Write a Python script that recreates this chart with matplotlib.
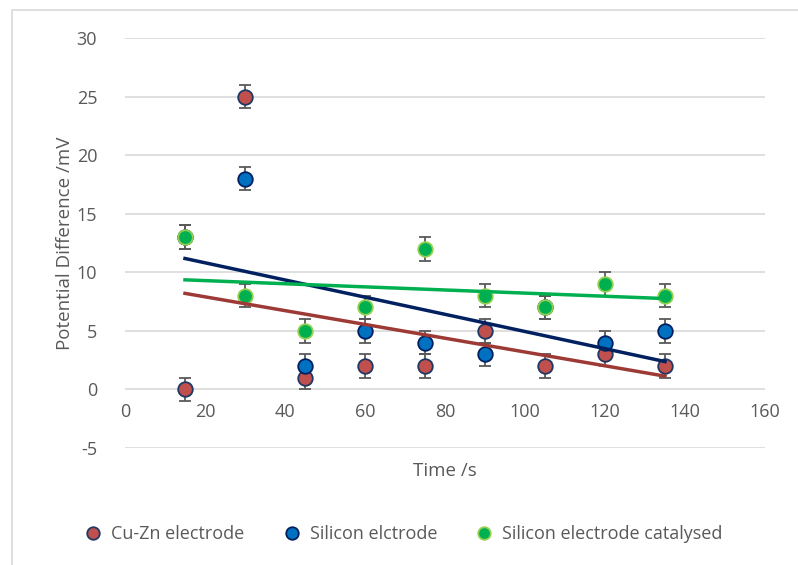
import numpy as np
import matplotlib.pyplot as plt
from matplotlib.patches import Rectangle
from matplotlib.lines import Line2D

time_s = [15, 30, 45, 60, 75, 90, 105, 120, 135]
cuzn = [0, 25, 1, 2, 2, 5, 2, 3, 2]
silicon = [13, 18, 2, 5, 4, 3, 7, 4, 5]
silicon_cat = [13, 8, 5, 7, 12, 8, 7, 9, 8]
err = 1

series = [
    ("Cu-Zn electrode", cuzn, "#C0504D", "#1F3864", "#9E3A36"),
    ("Silicon elctrode", silicon, "#0070C0", "#002060", "#002060"),
    ("Silicon electrode catalysed", silicon_cat, "#00B050", "#92D050", "#00B050"),
]

plt.rcParams['font.family'] = ['Open Sans', 'DejaVu Sans']
plt.rcParams['axes.unicode_minus'] = False
grey = "#595959"

fig = plt.figure(figsize=(7.98, 5.65), dpi=100)
fig.patches.append(Rectangle((12 / 798, -0.1), 1.0, 1 - 10 / 565 + 0.1,
                             transform=fig.transFigure, fill=False,
                             edgecolor="#D9D9D9", linewidth=1.2))
ax = fig.add_axes([125 / 798, 1 - 448 / 565, 640 / 798, 410 / 565])

x = np.array(time_s)
handles = []
for i, (name, y, fc, ec, lc) in enumerate(series):
    y = np.array(y)
    ax.errorbar(x, y, yerr=err, fmt='none', ecolor=grey, elinewidth=1.3,
                capsize=4.5, capthick=1.3, zorder=3 + i)
    ax.scatter(x, y, s=110, c=fc, edgecolors=ec, linewidths=1.3, zorder=6 + i)
    m, b = np.polyfit(x, y, 1)
    xt = np.array([x.min(), x.max()])
    ax.plot(xt, m * xt + b, color=lc, linewidth=2.5, zorder=10 + i)
    handles.append(Line2D([], [], marker='o', linestyle='none', markersize=9,
                          markerfacecolor=fc, markeredgecolor=ec,
                          markeredgewidth=1.3, label=name))

ax.set_xlim(0, 160)
ax.set_ylim(-5, 30)
ax.set_yticks(range(-5, 31, 5))
ax.set_xticks(range(0, 161, 20))
ax.grid(axis='y', color="#D9D9D9", linewidth=1.2)
ax.set_axisbelow(True)
for s in ax.spines.values():
    s.set_visible(False)
ax.tick_params(length=0, labelsize=13, colors=grey, pad=20)

# x tick labels sit just under the y=0 line
ax.set_xticklabels([])
for t in range(0, 161, 20):
    ax.text(t, -1.2, str(t), ha='center', va='top', fontsize=13, color=grey)

ax.set_ylabel("Potential Difference /mV", fontsize=13.5, color=grey, labelpad=2)
ax.text(0.5, -0.035, "Time /s", transform=ax.transAxes, ha='center', va='top',
        fontsize=13.5, color=grey)

fig.legend(handles=handles, loc='lower center', bbox_to_anchor=(0.5, 0.01),
           ncol=3, frameon=False, fontsize=13, labelcolor=grey,
           handletextpad=0.0, columnspacing=1.6)

fig.savefig("out.png", dpi=100)
